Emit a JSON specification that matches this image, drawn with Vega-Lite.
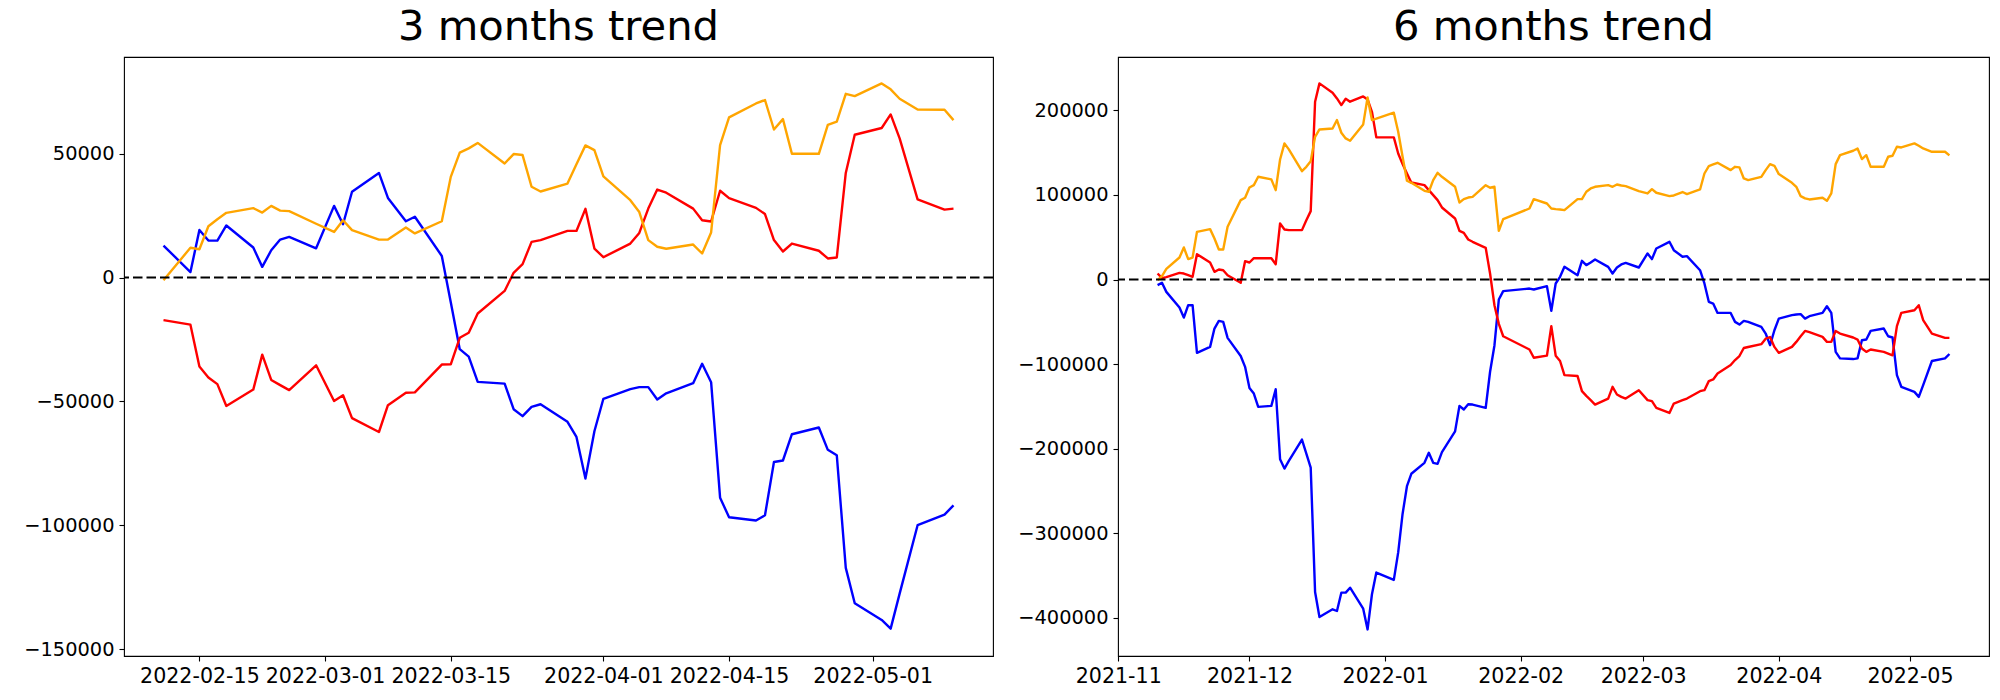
{
"$schema": "https://vega.github.io/schema/vega-lite/v6.json",
"padding": {"left": 5, "top": 6, "right": 5, "bottom": 5},
"background": "white",
"config": {
  "view": {"stroke": "black", "strokeWidth": 1.1},
  "font": "DejaVu Sans",
  "concat": {"spacing": 20},
  "axis": {"labelFont": "DejaVu Sans", "labelFontSize": 19.4, "labelColor": "black", "tickColor": "black", "tickSize": 5, "tickWidth": 1.1, "labelPadding": 5, "domain": false, "grid": false, "title": null, "labelFlush": false, "labelOverlap": false, "labelAngle": 0},
  "axisX": {"labelFontSize": 20.6},
  "title": {"font": "DejaVu Sans", "fontSize": 41.7, "fontWeight": "normal", "color": "black", "offset": 8, "anchor": "middle"}
},
"datasets": {
"m3": [
{"date":"2022-02-11","series":"b","value":12900},{"date":"2022-02-14","series":"b","value":2200},{"date":"2022-02-15","series":"b","value":19200},{"date":"2022-02-16","series":"b","value":14900},{"date":"2022-02-17","series":"b","value":14900},{"date":"2022-02-18","series":"b","value":21000},{"date":"2022-02-21","series":"b","value":12100},{"date":"2022-02-22","series":"b","value":4300},{"date":"2022-02-23","series":"b","value":11000},{"date":"2022-02-24","series":"b","value":15300},{"date":"2022-02-25","series":"b","value":16400},{"date":"2022-02-28","series":"b","value":11800},{"date":"2022-03-02","series":"b","value":28900},{"date":"2022-03-03","series":"b","value":21500},{"date":"2022-03-04","series":"b","value":34600},{"date":"2022-03-07","series":"b","value":42200},{"date":"2022-03-08","series":"b","value":32100},{"date":"2022-03-10","series":"b","value":22700},{"date":"2022-03-11","series":"b","value":24500},{"date":"2022-03-14","series":"b","value":8700},{"date":"2022-03-15","series":"b","value":-10000},{"date":"2022-03-16","series":"b","value":-28900},{"date":"2022-03-17","series":"b","value":-31900},{"date":"2022-03-18","series":"b","value":-42100},{"date":"2022-03-21","series":"b","value":-42800},{"date":"2022-03-22","series":"b","value":-53100},{"date":"2022-03-23","series":"b","value":-55900},{"date":"2022-03-24","series":"b","value":-52200},{"date":"2022-03-25","series":"b","value":-51100},{"date":"2022-03-28","series":"b","value":-58200},{"date":"2022-03-29","series":"b","value":-64300},{"date":"2022-03-30","series":"b","value":-81100},{"date":"2022-03-31","series":"b","value":-62000},{"date":"2022-04-01","series":"b","value":-48900},{"date":"2022-04-04","series":"b","value":-45000},{"date":"2022-04-05","series":"b","value":-44200},{"date":"2022-04-06","series":"b","value":-44200},{"date":"2022-04-07","series":"b","value":-49200},{"date":"2022-04-08","series":"b","value":-46700},{"date":"2022-04-11","series":"b","value":-42600},{"date":"2022-04-12","series":"b","value":-34800},{"date":"2022-04-13","series":"b","value":-42200},{"date":"2022-04-14","series":"b","value":-88800},{"date":"2022-04-15","series":"b","value":-96700},{"date":"2022-04-18","series":"b","value":-98000},{"date":"2022-04-19","series":"b","value":-95900},{"date":"2022-04-20","series":"b","value":-74400},{"date":"2022-04-21","series":"b","value":-73800},{"date":"2022-04-22","series":"b","value":-63200},{"date":"2022-04-25","series":"b","value":-60500},{"date":"2022-04-26","series":"b","value":-69500},{"date":"2022-04-27","series":"b","value":-71700},{"date":"2022-04-28","series":"b","value":-117100},{"date":"2022-04-29","series":"b","value":-131400},{"date":"2022-05-02","series":"b","value":-138100},{"date":"2022-05-03","series":"b","value":-141600},{"date":"2022-05-04","series":"b","value":-127500},{"date":"2022-05-06","series":"b","value":-99900},{"date":"2022-05-09","series":"b","value":-95600},{"date":"2022-05-10","series":"b","value":-91900},
{"date":"2022-02-11","series":"r","value":-17200},{"date":"2022-02-14","series":"r","value":-19000},{"date":"2022-02-15","series":"r","value":-35900},{"date":"2022-02-16","series":"r","value":-40300},{"date":"2022-02-17","series":"r","value":-43000},{"date":"2022-02-18","series":"r","value":-51800},{"date":"2022-02-21","series":"r","value":-45200},{"date":"2022-02-22","series":"r","value":-31100},{"date":"2022-02-23","series":"r","value":-41300},{"date":"2022-02-24","series":"r","value":-43400},{"date":"2022-02-25","series":"r","value":-45400},{"date":"2022-02-28","series":"r","value":-35400},{"date":"2022-03-02","series":"r","value":-49800},{"date":"2022-03-03","series":"r","value":-47500},{"date":"2022-03-04","series":"r","value":-56700},{"date":"2022-03-07","series":"r","value":-62300},{"date":"2022-03-08","series":"r","value":-51500},{"date":"2022-03-10","series":"r","value":-46500},{"date":"2022-03-11","series":"r","value":-46300},{"date":"2022-03-14","series":"r","value":-35100},{"date":"2022-03-15","series":"r","value":-35000},{"date":"2022-03-16","series":"r","value":-24300},{"date":"2022-03-17","series":"r","value":-22300},{"date":"2022-03-18","series":"r","value":-14500},{"date":"2022-03-21","series":"r","value":-5400},{"date":"2022-03-22","series":"r","value":1900},{"date":"2022-03-23","series":"r","value":5400},{"date":"2022-03-24","series":"r","value":14400},{"date":"2022-03-25","series":"r","value":15100},{"date":"2022-03-28","series":"r","value":18800},{"date":"2022-03-29","series":"r","value":18800},{"date":"2022-03-30","series":"r","value":27700},{"date":"2022-03-31","series":"r","value":11700},{"date":"2022-04-01","series":"r","value":8200},{"date":"2022-04-04","series":"r","value":13700},{"date":"2022-04-05","series":"r","value":18000},{"date":"2022-04-06","series":"r","value":27800},{"date":"2022-04-07","series":"r","value":35500},{"date":"2022-04-08","series":"r","value":34200},{"date":"2022-04-11","series":"r","value":27800},{"date":"2022-04-12","series":"r","value":23100},{"date":"2022-04-13","series":"r","value":22600},{"date":"2022-04-14","series":"r","value":35000},{"date":"2022-04-15","series":"r","value":32000},{"date":"2022-04-18","series":"r","value":28100},{"date":"2022-04-19","series":"r","value":25600},{"date":"2022-04-20","series":"r","value":15100},{"date":"2022-04-21","series":"r","value":10500},{"date":"2022-04-22","series":"r","value":13700},{"date":"2022-04-25","series":"r","value":10800},{"date":"2022-04-26","series":"r","value":7700},{"date":"2022-04-27","series":"r","value":8100},{"date":"2022-04-28","series":"r","value":42200},{"date":"2022-04-29","series":"r","value":57600},{"date":"2022-05-02","series":"r","value":60300},{"date":"2022-05-03","series":"r","value":65800},{"date":"2022-05-04","series":"r","value":56100},{"date":"2022-05-06","series":"r","value":31500},{"date":"2022-05-09","series":"r","value":27400},{"date":"2022-05-10","series":"r","value":27800},
{"date":"2022-02-11","series":"o","value":-1100},{"date":"2022-02-14","series":"o","value":12000},{"date":"2022-02-15","series":"o","value":11400},{"date":"2022-02-16","series":"o","value":20700},{"date":"2022-02-17","series":"o","value":23500},{"date":"2022-02-18","series":"o","value":26100},{"date":"2022-02-21","series":"o","value":28000},{"date":"2022-02-22","series":"o","value":26200},{"date":"2022-02-23","series":"o","value":28900},{"date":"2022-02-24","series":"o","value":27000},{"date":"2022-02-25","series":"o","value":26800},{"date":"2022-02-28","series":"o","value":21700},{"date":"2022-03-02","series":"o","value":18400},{"date":"2022-03-03","series":"o","value":23100},{"date":"2022-03-04","series":"o","value":19100},{"date":"2022-03-07","series":"o","value":15300},{"date":"2022-03-08","series":"o","value":15300},{"date":"2022-03-10","series":"o","value":20200},{"date":"2022-03-11","series":"o","value":17800},{"date":"2022-03-14","series":"o","value":22700},{"date":"2022-03-15","series":"o","value":40600},{"date":"2022-03-16","series":"o","value":50400},{"date":"2022-03-17","series":"o","value":52100},{"date":"2022-03-18","series":"o","value":54300},{"date":"2022-03-21","series":"o","value":46000},{"date":"2022-03-22","series":"o","value":49800},{"date":"2022-03-23","series":"o","value":49400},{"date":"2022-03-24","series":"o","value":36600},{"date":"2022-03-25","series":"o","value":34700},{"date":"2022-03-28","series":"o","value":37900},{"date":"2022-03-29","series":"o","value":45700},{"date":"2022-03-30","series":"o","value":53300},{"date":"2022-03-31","series":"o","value":51400},{"date":"2022-04-01","series":"o","value":40800},{"date":"2022-04-04","series":"o","value":31200},{"date":"2022-04-05","series":"o","value":26400},{"date":"2022-04-06","series":"o","value":15100},{"date":"2022-04-07","series":"o","value":12400},{"date":"2022-04-08","series":"o","value":11600},{"date":"2022-04-11","series":"o","value":13300},{"date":"2022-04-12","series":"o","value":9700},{"date":"2022-04-13","series":"o","value":18200},{"date":"2022-04-14","series":"o","value":53400},{"date":"2022-04-15","series":"o","value":64600},{"date":"2022-04-18","series":"o","value":70200},{"date":"2022-04-19","series":"o","value":71600},{"date":"2022-04-20","series":"o","value":59700},{"date":"2022-04-21","series":"o","value":63900},{"date":"2022-04-22","series":"o","value":49900},{"date":"2022-04-25","series":"o","value":49900},{"date":"2022-04-26","series":"o","value":61600},{"date":"2022-04-27","series":"o","value":62900},{"date":"2022-04-28","series":"o","value":74100},{"date":"2022-04-29","series":"o","value":73200},{"date":"2022-05-02","series":"o","value":78300},{"date":"2022-05-03","series":"o","value":75900},{"date":"2022-05-04","series":"o","value":72100},{"date":"2022-05-06","series":"o","value":67800},{"date":"2022-05-09","series":"o","value":67700},{"date":"2022-05-10","series":"o","value":63500}
],
"m6": [
{"date":"2021-11-10","series":"b","value":-6700},{"date":"2021-11-11","series":"b","value":-3900},{"date":"2021-11-12","series":"b","value":-14600},{"date":"2021-11-15","series":"b","value":-33100},{"date":"2021-11-16","series":"b","value":-45000},{"date":"2021-11-17","series":"b","value":-30400},{"date":"2021-11-18","series":"b","value":-30400},{"date":"2021-11-19","series":"b","value":-86800},{"date":"2021-11-22","series":"b","value":-79700},{"date":"2021-11-23","series":"b","value":-58000},{"date":"2021-11-24","series":"b","value":-48900},{"date":"2021-11-25","series":"b","value":-50100},{"date":"2021-11-26","series":"b","value":-69000},{"date":"2021-11-29","series":"b","value":-90500},{"date":"2021-11-30","series":"b","value":-103300},{"date":"2021-12-01","series":"b","value":-128200},{"date":"2021-12-02","series":"b","value":-134900},{"date":"2021-12-03","series":"b","value":-150700},{"date":"2021-12-06","series":"b","value":-149500},{"date":"2021-12-07","series":"b","value":-129800},{"date":"2021-12-08","series":"b","value":-212600},{"date":"2021-12-09","series":"b","value":-223600},{"date":"2021-12-10","series":"b","value":-214600},{"date":"2021-12-13","series":"b","value":-189300},{"date":"2021-12-14","series":"b","value":-205900},{"date":"2021-12-15","series":"b","value":-222500},{"date":"2021-12-16","series":"b","value":-369600},{"date":"2021-12-17","series":"b","value":-399200},{"date":"2021-12-20","series":"b","value":-390100},{"date":"2021-12-21","series":"b","value":-392100},{"date":"2021-12-22","series":"b","value":-370400},{"date":"2021-12-23","series":"b","value":-370400},{"date":"2021-12-24","series":"b","value":-364500},{"date":"2021-12-27","series":"b","value":-389300},{"date":"2021-12-28","series":"b","value":-413900},{"date":"2021-12-29","series":"b","value":-372300},{"date":"2021-12-30","series":"b","value":-346600},{"date":"2022-01-03","series":"b","value":-355300},{"date":"2022-01-04","series":"b","value":-322800},{"date":"2022-01-05","series":"b","value":-277300},{"date":"2022-01-06","series":"b","value":-244500},{"date":"2022-01-07","series":"b","value":-229800},{"date":"2022-01-10","series":"b","value":-216800},{"date":"2022-01-11","series":"b","value":-204900},{"date":"2022-01-12","series":"b","value":-216800},{"date":"2022-01-13","series":"b","value":-218000},{"date":"2022-01-14","series":"b","value":-204100},{"date":"2022-01-17","series":"b","value":-179600},{"date":"2022-01-18","series":"b","value":-149500},{"date":"2022-01-19","series":"b","value":-153800},{"date":"2022-01-20","series":"b","value":-147500},{"date":"2022-01-21","series":"b","value":-147900},{"date":"2022-01-24","series":"b","value":-151800},{"date":"2022-01-25","series":"b","value":-109100},{"date":"2022-01-26","series":"b","value":-78000},{"date":"2022-01-27","series":"b","value":-23700},{"date":"2022-01-28","series":"b","value":-13800},{"date":"2022-02-03","series":"b","value":-10700},{"date":"2022-02-04","series":"b","value":-11800},{"date":"2022-02-07","series":"b","value":-7900},{"date":"2022-02-08","series":"b","value":-37100},{"date":"2022-02-09","series":"b","value":-4700},{"date":"2022-02-10","series":"b","value":3200},{"date":"2022-02-11","series":"b","value":15000},{"date":"2022-02-14","series":"b","value":5100},{"date":"2022-02-15","series":"b","value":22100},{"date":"2022-02-16","series":"b","value":17000},{"date":"2022-02-17","series":"b","value":20100},{"date":"2022-02-18","series":"b","value":23700},{"date":"2022-02-21","series":"b","value":15000},{"date":"2022-02-22","series":"b","value":7100},{"date":"2022-02-23","series":"b","value":14200},{"date":"2022-02-24","series":"b","value":17800},{"date":"2022-02-25","series":"b","value":19700},{"date":"2022-02-28","series":"b","value":14200},{"date":"2022-03-02","series":"b","value":30800},{"date":"2022-03-03","series":"b","value":24100},{"date":"2022-03-04","series":"b","value":36700},{"date":"2022-03-07","series":"b","value":44600},{"date":"2022-03-08","series":"b","value":34700},{"date":"2022-03-10","series":"b","value":27000},{"date":"2022-03-11","series":"b","value":27600},{"date":"2022-03-14","series":"b","value":11000},{"date":"2022-03-15","series":"b","value":-4700},{"date":"2022-03-16","series":"b","value":-26400},{"date":"2022-03-17","series":"b","value":-28400},{"date":"2022-03-18","series":"b","value":-39500},{"date":"2022-03-21","series":"b","value":-39500},{"date":"2022-03-22","series":"b","value":-50100},{"date":"2022-03-23","series":"b","value":-53300},{"date":"2022-03-24","series":"b","value":-48900},{"date":"2022-03-25","series":"b","value":-50100},{"date":"2022-03-28","series":"b","value":-56000},{"date":"2022-03-29","series":"b","value":-63900},{"date":"2022-03-30","series":"b","value":-77700},{"date":"2022-03-31","series":"b","value":-60000},{"date":"2022-04-01","series":"b","value":-46200},{"date":"2022-04-04","series":"b","value":-42200},{"date":"2022-04-05","series":"b","value":-41400},{"date":"2022-04-06","series":"b","value":-41000},{"date":"2022-04-07","series":"b","value":-46200},{"date":"2022-04-08","series":"b","value":-43400},{"date":"2022-04-11","series":"b","value":-39500},{"date":"2022-04-12","series":"b","value":-31600},{"date":"2022-04-13","series":"b","value":-39500},{"date":"2022-04-14","series":"b","value":-85600},{"date":"2022-04-15","series":"b","value":-93300},{"date":"2022-04-18","series":"b","value":-94100},{"date":"2022-04-19","series":"b","value":-93300},{"date":"2022-04-20","series":"b","value":-71800},{"date":"2022-04-21","series":"b","value":-71000},{"date":"2022-04-22","series":"b","value":-60800},{"date":"2022-04-25","series":"b","value":-58000},{"date":"2022-04-26","series":"b","value":-67100},{"date":"2022-04-27","series":"b","value":-68600},{"date":"2022-04-28","series":"b","value":-113100},{"date":"2022-04-29","series":"b","value":-126900},{"date":"2022-05-02","series":"b","value":-132900},{"date":"2022-05-03","series":"b","value":-138800},{"date":"2022-05-04","series":"b","value":-124900},{"date":"2022-05-06","series":"b","value":-96400},{"date":"2022-05-09","series":"b","value":-93300},{"date":"2022-05-10","series":"b","value":-88100},
{"date":"2021-11-10","series":"r","value":7100},{"date":"2021-11-11","series":"r","value":1600},{"date":"2021-11-12","series":"r","value":2800},{"date":"2021-11-15","series":"r","value":7900},{"date":"2021-11-16","series":"r","value":7100},{"date":"2021-11-17","series":"r","value":5100},{"date":"2021-11-18","series":"r","value":3200},{"date":"2021-11-19","series":"r","value":30000},{"date":"2021-11-22","series":"r","value":20100},{"date":"2021-11-23","series":"r","value":9100},{"date":"2021-11-24","series":"r","value":11800},{"date":"2021-11-25","series":"r","value":11000},{"date":"2021-11-26","series":"r","value":5100},{"date":"2021-11-29","series":"r","value":-3900},{"date":"2021-11-30","series":"r","value":21700},{"date":"2021-12-01","series":"r","value":20100},{"date":"2021-12-02","series":"r","value":25200},{"date":"2021-12-03","series":"r","value":25200},{"date":"2021-12-06","series":"r","value":25200},{"date":"2021-12-07","series":"r","value":18100},{"date":"2021-12-08","series":"r","value":66300},{"date":"2021-12-09","series":"r","value":59200},{"date":"2021-12-10","series":"r","value":58400},{"date":"2021-12-13","series":"r","value":58400},{"date":"2021-12-14","series":"r","value":70200},{"date":"2021-12-15","series":"r","value":80900},{"date":"2021-12-16","series":"r","value":210300},{"date":"2021-12-17","series":"r","value":232000},{"date":"2021-12-20","series":"r","value":220900},{"date":"2021-12-21","series":"r","value":214200},{"date":"2021-12-22","series":"r","value":206300},{"date":"2021-12-23","series":"r","value":213800},{"date":"2021-12-24","series":"r","value":210300},{"date":"2021-12-27","series":"r","value":216600},{"date":"2021-12-28","series":"r","value":213000},{"date":"2021-12-29","series":"r","value":198400},{"date":"2021-12-30","series":"r","value":168100},{"date":"2022-01-03","series":"r","value":168100},{"date":"2022-01-04","series":"r","value":149100},{"date":"2022-01-05","series":"r","value":136500},{"date":"2022-01-06","series":"r","value":125400},{"date":"2022-01-07","series":"r","value":114800},{"date":"2022-01-10","series":"r","value":111600},{"date":"2022-01-11","series":"r","value":105700},{"date":"2022-01-12","series":"r","value":99800},{"date":"2022-01-13","series":"r","value":93900},{"date":"2022-01-14","series":"r","value":85200},{"date":"2022-01-17","series":"r","value":72200},{"date":"2022-01-18","series":"r","value":57600},{"date":"2022-01-19","series":"r","value":55200},{"date":"2022-01-20","series":"r","value":47300},{"date":"2022-01-21","series":"r","value":44600},{"date":"2022-01-24","series":"r","value":37500},{"date":"2022-01-25","series":"r","value":7100},{"date":"2022-01-26","series":"r","value":-30400},{"date":"2022-01-27","series":"r","value":-52500},{"date":"2022-01-28","series":"r","value":-67100},{"date":"2022-02-03","series":"r","value":-82800},{"date":"2022-02-04","series":"r","value":-92500},{"date":"2022-02-07","series":"r","value":-90100},{"date":"2022-02-08","series":"r","value":-55200},{"date":"2022-02-09","series":"r","value":-90100},{"date":"2022-02-10","series":"r","value":-96400},{"date":"2022-02-11","series":"r","value":-113100},{"date":"2022-02-14","series":"r","value":-114200},{"date":"2022-02-15","series":"r","value":-132100},{"date":"2022-02-16","series":"r","value":-137600},{"date":"2022-02-17","series":"r","value":-142700},{"date":"2022-02-18","series":"r","value":-147900},{"date":"2022-02-21","series":"r","value":-140800},{"date":"2022-02-22","series":"r","value":-126900},{"date":"2022-02-23","series":"r","value":-136000},{"date":"2022-02-24","series":"r","value":-138800},{"date":"2022-02-25","series":"r","value":-140800},{"date":"2022-02-28","series":"r","value":-130900},{"date":"2022-03-02","series":"r","value":-142700},{"date":"2022-03-03","series":"r","value":-143900},{"date":"2022-03-04","series":"r","value":-151800},{"date":"2022-03-07","series":"r","value":-157800},{"date":"2022-03-08","series":"r","value":-146700},{"date":"2022-03-10","series":"r","value":-142700},{"date":"2022-03-11","series":"r","value":-140800},{"date":"2022-03-14","series":"r","value":-132100},{"date":"2022-03-15","series":"r","value":-130900},{"date":"2022-03-16","series":"r","value":-120200},{"date":"2022-03-17","series":"r","value":-118200},{"date":"2022-03-18","series":"r","value":-111100},{"date":"2022-03-21","series":"r","value":-101200},{"date":"2022-03-22","series":"r","value":-95300},{"date":"2022-03-23","series":"r","value":-90500},{"date":"2022-03-24","series":"r","value":-81000},{"date":"2022-03-25","series":"r","value":-79800},{"date":"2022-03-28","series":"r","value":-76500},{"date":"2022-03-29","series":"r","value":-70000},{"date":"2022-03-30","series":"r","value":-68000},{"date":"2022-03-31","series":"r","value":-79700},{"date":"2022-04-01","series":"r","value":-86800},{"date":"2022-04-04","series":"r","value":-79700},{"date":"2022-04-05","series":"r","value":-73800},{"date":"2022-04-06","series":"r","value":-67100},{"date":"2022-04-07","series":"r","value":-60800},{"date":"2022-04-08","series":"r","value":-62300},{"date":"2022-04-11","series":"r","value":-67900},{"date":"2022-04-12","series":"r","value":-73800},{"date":"2022-04-13","series":"r","value":-73800},{"date":"2022-04-14","series":"r","value":-60800},{"date":"2022-04-15","series":"r","value":-63900},{"date":"2022-04-18","series":"r","value":-68600},{"date":"2022-04-19","series":"r","value":-71000},{"date":"2022-04-20","series":"r","value":-81700},{"date":"2022-04-21","series":"r","value":-85600},{"date":"2022-04-22","series":"r","value":-82800},{"date":"2022-04-25","series":"r","value":-85600},{"date":"2022-04-26","series":"r","value":-87600},{"date":"2022-04-27","series":"r","value":-89600},{"date":"2022-04-28","series":"r","value":-55200},{"date":"2022-04-29","series":"r","value":-39500},{"date":"2022-05-02","series":"r","value":-36300},{"date":"2022-05-03","series":"r","value":-30400},{"date":"2022-05-04","series":"r","value":-48100},{"date":"2022-05-06","series":"r","value":-63900},{"date":"2022-05-09","series":"r","value":-69000},{"date":"2022-05-10","series":"r","value":-69000},
{"date":"2021-11-10","series":"o","value":-800},{"date":"2021-11-11","series":"o","value":4100},{"date":"2021-11-12","series":"o","value":12600},{"date":"2021-11-15","series":"o","value":26000},{"date":"2021-11-16","series":"o","value":37900},{"date":"2021-11-17","series":"o","value":24100},{"date":"2021-11-18","series":"o","value":26000},{"date":"2021-11-19","series":"o","value":56400},{"date":"2021-11-22","series":"o","value":59600},{"date":"2021-11-23","series":"o","value":48500},{"date":"2021-11-24","series":"o","value":35500},{"date":"2021-11-25","series":"o","value":35500},{"date":"2021-11-26","series":"o","value":62300},{"date":"2021-11-29","series":"o","value":93900},{"date":"2021-11-30","series":"o","value":96700},{"date":"2021-12-01","series":"o","value":108900},{"date":"2021-12-02","series":"o","value":111600},{"date":"2021-12-03","series":"o","value":121500},{"date":"2021-12-06","series":"o","value":118400},{"date":"2021-12-07","series":"o","value":105700},{"date":"2021-12-08","series":"o","value":142000},{"date":"2021-12-09","series":"o","value":161000},{"date":"2021-12-10","series":"o","value":153900},{"date":"2021-12-13","series":"o","value":128200},{"date":"2021-12-14","series":"o","value":133300},{"date":"2021-12-15","series":"o","value":140000},{"date":"2021-12-16","series":"o","value":168800},{"date":"2021-12-17","series":"o","value":177500},{"date":"2021-12-20","series":"o","value":178700},{"date":"2021-12-21","series":"o","value":188600},{"date":"2021-12-22","series":"o","value":173600},{"date":"2021-12-23","series":"o","value":166900},{"date":"2021-12-24","series":"o","value":164100},{"date":"2021-12-27","series":"o","value":183500},{"date":"2021-12-28","series":"o","value":215400},{"date":"2021-12-29","series":"o","value":188600},{"date":"2021-12-30","series":"o","value":190200},{"date":"2022-01-03","series":"o","value":197300},{"date":"2022-01-04","series":"o","value":174800},{"date":"2022-01-05","series":"o","value":145200},{"date":"2022-01-06","series":"o","value":116800},{"date":"2022-01-07","series":"o","value":114400},{"date":"2022-01-10","series":"o","value":104900},{"date":"2022-01-11","series":"o","value":103800},{"date":"2022-01-12","series":"o","value":117600},{"date":"2022-01-13","series":"o","value":126200},{"date":"2022-01-14","series":"o","value":121500},{"date":"2022-01-17","series":"o","value":109700},{"date":"2022-01-18","series":"o","value":91100},{"date":"2022-01-19","series":"o","value":95100},{"date":"2022-01-20","series":"o","value":97000},{"date":"2022-01-21","series":"o","value":97800},{"date":"2022-01-24","series":"o","value":111600},{"date":"2022-01-25","series":"o","value":108500},{"date":"2022-01-26","series":"o","value":109700},{"date":"2022-01-27","series":"o","value":57600},{"date":"2022-01-28","series":"o","value":71400},{"date":"2022-02-03","series":"o","value":84000},{"date":"2022-02-04","series":"o","value":95100},{"date":"2022-02-07","series":"o","value":89900},{"date":"2022-02-08","series":"o","value":84000},{"date":"2022-02-09","series":"o","value":83200},{"date":"2022-02-10","series":"o","value":82800},{"date":"2022-02-11","series":"o","value":82100},{"date":"2022-02-14","series":"o","value":95100},{"date":"2022-02-15","series":"o","value":95100},{"date":"2022-02-16","series":"o","value":103800},{"date":"2022-02-17","series":"o","value":107700},{"date":"2022-02-18","series":"o","value":109700},{"date":"2022-02-21","series":"o","value":111600},{"date":"2022-02-22","series":"o","value":109700},{"date":"2022-02-23","series":"o","value":112400},{"date":"2022-02-24","series":"o","value":111200},{"date":"2022-02-25","series":"o","value":110500},{"date":"2022-02-28","series":"o","value":104500},{"date":"2022-03-02","series":"o","value":101800},{"date":"2022-03-03","series":"o","value":106900},{"date":"2022-03-04","series":"o","value":102600},{"date":"2022-03-07","series":"o","value":98600},{"date":"2022-03-08","series":"o","value":99400},{"date":"2022-03-10","series":"o","value":103500},{"date":"2022-03-11","series":"o","value":101000},{"date":"2022-03-14","series":"o","value":106500},{"date":"2022-03-15","series":"o","value":125400},{"date":"2022-03-16","series":"o","value":134100},{"date":"2022-03-17","series":"o","value":136100},{"date":"2022-03-18","series":"o","value":138100},{"date":"2022-03-21","series":"o","value":129400},{"date":"2022-03-22","series":"o","value":133300},{"date":"2022-03-23","series":"o","value":132600},{"date":"2022-03-24","series":"o","value":119500},{"date":"2022-03-25","series":"o","value":117600},{"date":"2022-03-28","series":"o","value":121500},{"date":"2022-03-29","series":"o","value":129400},{"date":"2022-03-30","series":"o","value":136500},{"date":"2022-03-31","series":"o","value":134500},{"date":"2022-04-01","series":"o","value":124700},{"date":"2022-04-04","series":"o","value":114400},{"date":"2022-04-05","series":"o","value":109700},{"date":"2022-04-06","series":"o","value":98600},{"date":"2022-04-07","series":"o","value":95900},{"date":"2022-04-08","series":"o","value":94700},{"date":"2022-04-11","series":"o","value":96700},{"date":"2022-04-12","series":"o","value":93100},{"date":"2022-04-13","series":"o","value":101800},{"date":"2022-04-14","series":"o","value":136500},{"date":"2022-04-15","series":"o","value":147100},{"date":"2022-04-18","series":"o","value":152300},{"date":"2022-04-19","series":"o","value":155000},{"date":"2022-04-20","series":"o","value":142400},{"date":"2022-04-21","series":"o","value":147100},{"date":"2022-04-22","series":"o","value":133300},{"date":"2022-04-25","series":"o","value":133300},{"date":"2022-04-26","series":"o","value":145200},{"date":"2022-04-27","series":"o","value":146400},{"date":"2022-04-28","series":"o","value":157000},{"date":"2022-04-29","series":"o","value":156200},{"date":"2022-05-02","series":"o","value":161000},{"date":"2022-05-03","series":"o","value":158200},{"date":"2022-05-04","series":"o","value":155000},{"date":"2022-05-06","series":"o","value":151100},{"date":"2022-05-09","series":"o","value":151100},{"date":"2022-05-10","series":"o","value":146800}
]
},
"hconcat": [
 {
  "title": {"text": "3 months trend"},
  "width": 869, "height": 599,
  "layer": [
   {
    "data": {"name": "m3"},
    "mark": {"type": "line", "strokeWidth": 2.4, "strokeJoin": "round", "clip": true},
    "encoding": {
     "x": {"field": "date", "type": "temporal",
       "scale": {"type": "utc", "domain": [{"year": 2022, "month": 2, "date": 6, "hours": 14, "minutes": 24, "utc": true}, {"year": 2022, "month": 5, "date": 14, "hours": 9, "minutes": 36, "utc": true}]},
       "axis": {"labelExpr": "utcFormat(datum.value, '%Y-%m-%d')", "values": [{"year": 2022, "month": 2, "date": 15, "utc": true}, {"year": 2022, "month": 3, "date": 1, "utc": true}, {"year": 2022, "month": 3, "date": 15, "utc": true}, {"year": 2022, "month": 4, "date": 1, "utc": true}, {"year": 2022, "month": 4, "date": 15, "utc": true}, {"year": 2022, "month": 5, "date": 1, "utc": true}]}},
     "y": {"field": "value", "type": "quantitative",
       "scale": {"domain": [-152650, 88950], "nice": false, "zero": false},
       "axis": {"values": [-150000, -100000, -50000, 0, 50000], "format": "d", "minExtent": 118, "maxExtent": 118}},
     "color": {"field": "series", "type": "nominal", "scale": {"domain": ["b", "r", "o"], "range": ["#0000ff", "#ff0000", "#ffa500"]}, "legend": null}
    }
   },
   {
    "data": {"values": [{}]},
    "mark": {"type": "rule", "strokeDash": [9.5, 4], "strokeWidth": 2, "color": "black"},
    "encoding": {"y": {"datum": 0}}
   }
  ]
 },
 {
  "title": {"text": "6 months trend"},
  "width": 871, "height": 599,
  "layer": [
   {
    "data": {"name": "m6"},
    "mark": {"type": "line", "strokeWidth": 2.4, "strokeJoin": "round", "clip": true},
    "encoding": {
     "x": {"field": "date", "type": "temporal",
       "scale": {"type": "utc", "domain": [{"year": 2021, "month": 10, "date": 31, "hours": 22, "minutes": 48, "utc": true}, {"year": 2022, "month": 5, "date": 19, "hours": 1, "minutes": 12, "utc": true}]},
       "axis": {"labelExpr": "utcFormat(datum.value, '%Y-%m')", "values": [{"year": 2021, "month": 11, "date": 1, "utc": true}, {"year": 2021, "month": 12, "date": 1, "utc": true}, {"year": 2022, "month": 1, "date": 1, "utc": true}, {"year": 2022, "month": 2, "date": 1, "utc": true}, {"year": 2022, "month": 3, "date": 1, "utc": true}, {"year": 2022, "month": 4, "date": 1, "utc": true}, {"year": 2022, "month": 5, "date": 1, "utc": true}]}},
     "y": {"field": "value", "type": "quantitative",
       "scale": {"domain": [-445325, 263195], "nice": false, "zero": false},
       "axis": {"values": [-400000, -300000, -200000, -100000, 0, 100000, 200000], "format": "d", "minExtent": 102, "maxExtent": 102}},
     "color": {"field": "series", "type": "nominal", "scale": {"domain": ["b", "r", "o"], "range": ["#0000ff", "#ff0000", "#ffa500"]}, "legend": null}
    }
   },
   {
    "data": {"values": [{}]},
    "mark": {"type": "rule", "strokeDash": [9.5, 4], "strokeWidth": 2, "color": "black"},
    "encoding": {"y": {"datum": 0}}
   }
  ]
 }
]
}
